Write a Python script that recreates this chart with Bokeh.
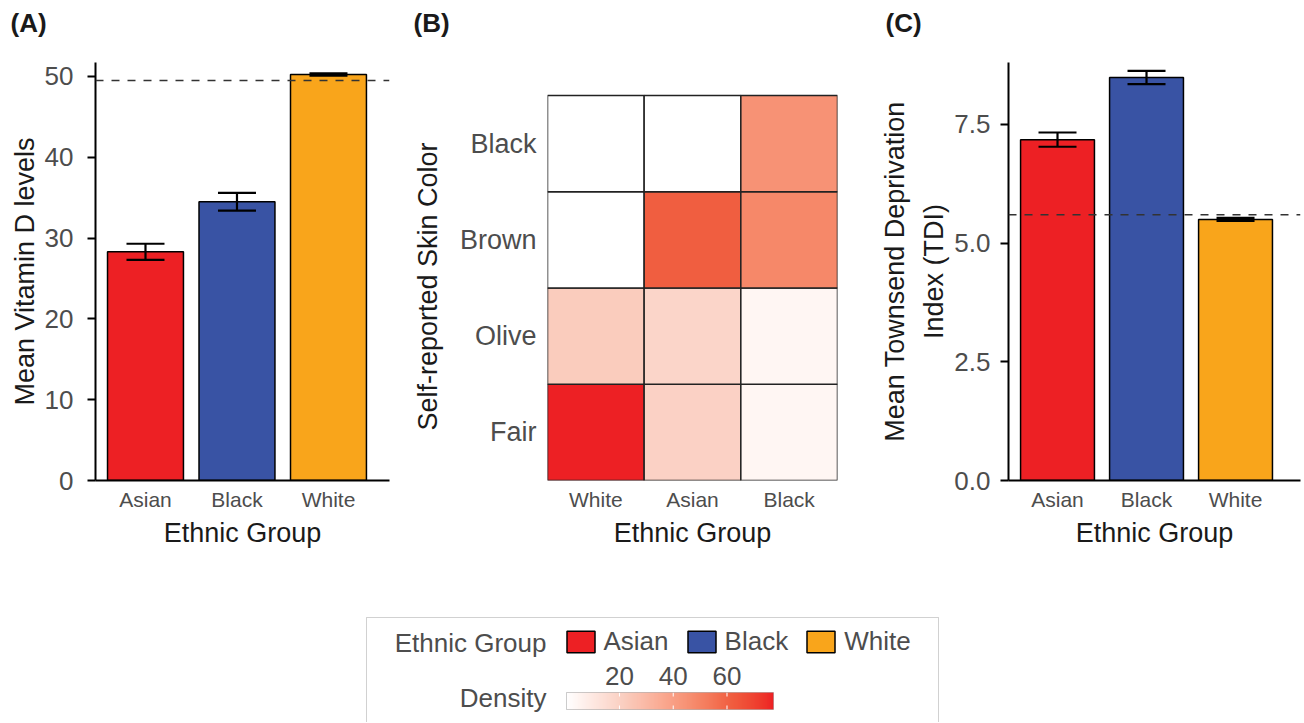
import numpy as np
from bokeh.plotting import figure
from bokeh.models import (ColumnDataSource, Range1d, FixedTicker, Whisker, TeeHead, Span,
                          LinearColorMapper, Legend, LegendItem, Label, BoxAnnotation,
                          Title, PrintfTickFormatter)
from bokeh.layouts import row, column
from bokeh.transform import transform
from bokeh.core.properties import value
from bokeh.embed import file_html
from bokeh.resources import INLINE

# ---------------- data ----------------
groups = ["Asian", "Black", "White"]
group_colors = ["#ED2024", "#3953A4", "#F9A51B"]

vitd_mean = [28.3, 34.5, 50.25]
vitd_lo = [27.3, 33.4, 50.1]
vitd_hi = [29.3, 35.6, 50.4]
vitd_ref = 49.5

tdi_mean = [7.18, 8.49, 5.50]
tdi_lo = [7.03, 8.35, 5.47]
tdi_hi = [7.33, 8.63, 5.53]
tdi_ref = 5.60

heat_groups = ["White", "Asian", "Black"]
skin_colors = ["Fair", "Olive", "Brown", "Black"]
dens_white = [77.3, 22.5, 0.5, 0.3]
dens_asian = [20.0, 18.5, 61.5, 0.3]
dens_black = [4.5, 4.5, 48.5, 45.0]

vitd_ticks = [0, 10, 20, 30, 40, 50]
tdi_ticks = [0.0, 2.5, 5.0, 7.5]
dens_ticks = [20, 40, 60]

# ---------------- style ----------------
FONT = "Liberation Sans"
TICK_C = "#4d4d4d"
TITLE_C = "#1a1a1a"
# colour-scale stops (position along the scale, colour)
scale_stops = [(0.0, "#FFFFFF"), (0.28, "#FACDBF"), (0.6, "#F68E70"),
               (0.8, "#F05D3F"), (1.0, "#ED2024")]


def srgb_to_lab(h):
    r, g, b = [int(h[i:i + 2], 16) / 255 for i in (1, 3, 5)]
    def lin(c):
        return c / 12.92 if c <= 0.04045 else ((c + 0.055) / 1.055) ** 2.4
    rl, gl, bl = lin(r), lin(g), lin(b)
    X = 0.4124564 * rl + 0.3575761 * gl + 0.1804375 * bl
    Y = 0.2126729 * rl + 0.7151522 * gl + 0.0721750 * bl
    Z = 0.0193339 * rl + 0.1191920 * gl + 0.9503041 * bl
    def f(t):
        return t ** (1 / 3) if t > 216 / 24389 else (24389 / 27 * t + 16) / 116
    fx, fy, fz = f(X / 0.95047), f(Y), f(Z / 1.08883)
    return np.array([116 * fy - 16, 500 * (fx - fy), 200 * (fy - fz)])


def lab_to_hex(lab):
    L, a, b = lab
    fy = (L + 16) / 116
    fx = fy + a / 500
    fz = fy - b / 200
    def finv(t):
        return t ** 3 if t ** 3 > 216 / 24389 else (116 * t - 16) / (24389 / 27)
    X, Y, Z = 0.95047 * finv(fx), finv(fy), 1.08883 * finv(fz)
    rl = 3.2404542 * X - 1.5371385 * Y - 0.4985314 * Z
    gl = -0.9692660 * X + 1.8760108 * Y + 0.0415560 * Z
    bl = 0.0556434 * X - 0.2040259 * Y + 1.0572252 * Z
    def gam(c):
        c = min(max(c, 0.0), 1.0)
        return 12.92 * c if c <= 0.0031308 else 1.055 * c ** (1 / 2.4) - 0.055
    return "#%02x%02x%02x" % tuple(int(round(gam(c) * 255)) for c in (rl, gl, bl))


def build_palette(stops, n=256):
    pos = [s[0] for s in stops]
    labs = [srgb_to_lab(s[1]) for s in stops]
    out = []
    for t in np.linspace(0, 1, n):
        j = min(max(np.searchsorted(pos, t, side="right") - 1, 0), len(pos) - 2)
        u = (t - pos[j]) / (pos[j + 1] - pos[j])
        out.append(lab_to_hex(labs[j] + (labs[j + 1] - labs[j]) * u))
    return out


palette = build_palette(scale_stops)
all_dens = dens_white + dens_asian + dens_black
dmin, dmax = min(all_dens), max(all_dens)
mapper = LinearColorMapper(palette=palette, low=dmin, high=dmax)


def base_style(p, label, offset):
    p.xgrid.visible = False
    p.ygrid.visible = False
    p.outline_line_color = None
    p.background_fill_color = "white"
    p.border_fill_color = "white"
    # spacer title (nearest the frame), then the panel tag above it
    p.add_layout(Title(text=" ", text_font_size="2px", standoff=21), "above")
    p.add_layout(Title(text=label, text_font=FONT, text_font_size="26px",
                       text_font_style="bold", text_color=TITLE_C, align="left",
                       offset=offset, standoff=0), "above")


def style_axis(ax, tick_size, tick_standoff, label, label_standoff):
    ax.major_label_text_font = FONT
    ax.major_label_text_font_size = tick_size
    ax.major_label_text_color = TICK_C
    ax.major_label_standoff = tick_standoff
    ax.minor_tick_line_color = None
    ax.axis_label = label
    ax.axis_label_text_font = FONT
    ax.axis_label_text_font_size = "27px"
    ax.axis_label_text_font_style = "normal"
    ax.axis_label_text_color = TITLE_C
    ax.axis_label_standoff = label_standoff


def bar_panel(tag, means, lo, hi, ref, yend, ticks, ylabel, xstart, xend,
              width, mb_left, mb_right, title_offset, tick_standoff, fmt=None):
    xs = list(range(1, len(groups) + 1))
    src = ColumnDataSource(dict(x=xs, top=means, lo=lo, hi=hi, color=group_colors, g=groups))
    p = figure(width=width, height=560,
               x_range=Range1d(xstart, xend), y_range=Range1d(0, yend),
               toolbar_location=None, output_backend="svg",
               min_border_left=mb_left, min_border_right=mb_right,
               min_border_top=62, min_border_bottom=80)
    base_style(p, tag, title_offset)
    p.vbar(x="x", top="top", width=0.83, source=src, fill_color="color",
           line_color="black", line_width=1.5)
    p.add_layout(Whisker(source=src, base="x", lower="lo", upper="hi", dimension="height",
                         line_color="black", line_width=2.2, level="overlay",
                         upper_head=TeeHead(size=38, line_color="black", line_width=2.2),
                         lower_head=TeeHead(size=38, line_color="black", line_width=2.2)))
    p.add_layout(Span(location=ref, dimension="width", line_color="#333333",
                      line_width=1.5, line_dash="8 8"))
    ya = p.yaxis[0]
    ya.ticker = FixedTicker(ticks=ticks)
    if fmt is not None:
        ya.formatter = PrintfTickFormatter(format=fmt)
    ya.axis_line_color = "black"
    ya.axis_line_width = 2
    ya.major_tick_line_color = "black"
    ya.major_tick_line_width = 2
    ya.major_tick_out = 8
    ya.major_tick_in = 0
    style_axis(ya, "26px", tick_standoff, ylabel, 2)
    ya.axis_label_text_line_height = 1.3
    xa = p.xaxis[0]
    xa.ticker = FixedTicker(ticks=xs)
    xa.major_label_overrides = {x: g for x, g in zip(xs, groups)}
    xa.axis_line_color = "black"
    xa.axis_line_width = 2
    xa.major_tick_line_color = None
    style_axis(xa, "21px", 1, "Ethnic Group", 4)
    return p


# ---------------- panel A ----------------
pA = bar_panel("(A)", vitd_mean, vitd_lo, vitd_hi, vitd_ref, 51.73, vitd_ticks,
               "Mean Vitamin D levels", 0.4536, 3.667, 400, 95, 11, -85, 14)

# ---------------- panel C ----------------
pC = bar_panel("(C)", tdi_mean, tdi_lo, tdi_hi, tdi_ref, 8.805, tdi_ticks,
               "Mean Townsend Deprivation\nIndex (TDI)", 0.4494, 3.73, 444, 148, 4,
               -123, 10, fmt="%.1f")

# ---------------- panel B (heatmap) ----------------
hx_pos = list(range(1, len(heat_groups) + 1))
hy_pos = list(range(1, len(skin_colors) + 1))
hx, hy, hd = [], [], []
for gx, dens in zip(hx_pos, [dens_white, dens_asian, dens_black]):
    for sy, d in zip(hy_pos, dens):
        hx.append(gx)
        hy.append(sy)
        hd.append(d)
hsrc = ColumnDataSource(dict(x=hx, y=hy, d=hd))

pB = figure(width=460, height=560,
            x_range=Range1d(0.5, 3.5), y_range=Range1d(0.5, 4.843),
            toolbar_location=None, output_backend="svg",
            min_border_left=147, min_border_right=23, min_border_top=62, min_border_bottom=80)
base_style(pB, "(B)", -134)
pB.rect(x="x", y="y", width=1, height=1, source=hsrc,
        fill_color=transform("d", mapper), line_color="#222222", line_width=1.5)
xb, yb = pB.xaxis[0], pB.yaxis[0]
xb.ticker = FixedTicker(ticks=hx_pos)
xb.major_label_overrides = {x: g for x, g in zip(hx_pos, heat_groups)}
yb.ticker = FixedTicker(ticks=hy_pos)
yb.major_label_overrides = {y: s for y, s in zip(hy_pos, skin_colors)}
for ax in (xb, yb):
    ax.axis_line_color = None
    ax.major_tick_line_color = None
style_axis(xb, "21px", 1, "Ethnic Group", 4)
# trailing no-break spaces re-centre the title on the tiles (frame is taller)
style_axis(yb, "27px", 5, "Self-reported Skin Color" + "\u00a0" * 4, 14)

# ---------------- legend strip ----------------
# frame spans the legend box area; x is in density units so the colour bar
# and its ticks go through the plot's own scale
cb_left, cb_right = 566, 773          # colour-bar pixel extent on the page
fr_left, fr_right = 360, 944          # frame pixel extent
k = (cb_right - cb_left) / (dmax - dmin)
x0 = dmin - (cb_left - fr_left) / k
x1 = dmin + (fr_right - cb_left) / k
PL_BOTTOM = 722                         # page y of the frame bottom


def ypx(page_y):
    return PL_BOTTOM - page_y


pL = figure(width=1304, height=162, x_range=Range1d(x0, x1), y_range=Range1d(0, 112),
            x_axis_type=None, y_axis_type=None,
            toolbar_location=None, output_backend="svg",
            min_border_left=fr_left, min_border_right=1304 - fr_right,
            min_border_top=50, min_border_bottom=0)
pL.xgrid.visible = False
pL.ygrid.visible = False
pL.outline_line_color = None
pL.background_fill_color = "white"
pL.border_fill_color = "white"

grad = np.linspace(dmin, dmax, 256).reshape(1, -1)
pL.image(image=[grad], x=dmin, y=ypx(709), dw=dmax - dmin, dh=17, color_mapper=mapper)
pL.add_layout(BoxAnnotation(left=dmin, right=dmax, bottom=ypx(709), top=ypx(692),
                            fill_color=None, fill_alpha=0, line_color="#555555",
                            line_width=1, level="overlay"))
pL.segment(x0=dens_ticks, x1=dens_ticks, y0=[ypx(709)] * len(dens_ticks),
           y1=[ypx(705)] * len(dens_ticks), line_color="white", line_width=1)
pL.segment(x0=dens_ticks, x1=dens_ticks, y0=[ypx(696)] * len(dens_ticks),
           y1=[ypx(692)] * len(dens_ticks), line_color="white", line_width=1)
pL.text(x=dens_ticks, y=[ypx(675)] * len(dens_ticks), text=[str(t) for t in dens_ticks],
        text_align="center", text_baseline="middle", text_font=value(FONT),
        text_font_size="26px", text_color=TICK_C)

# legend proxies: hidden renderers, only their legend keys are drawn
lsrc = ColumnDataSource(dict(x=[dmin] * len(groups), top=[dmin] * len(groups),
                             color=group_colors))
lr = pL.vbar(x="x", top="top", width=1, source=lsrc, fill_color="color",
             line_color="black", line_width=1.5, visible=False)
items = [LegendItem(label=g, renderers=[lr], index=i) for i, g in enumerate(groups)]
leg = Legend(items=items, location=(566 - 3.5 - fr_left, ypx(657)), orientation="horizontal",
             glyph_width=35, glyph_height=27, label_standoff=6, spacing=15,
             padding=0, margin=0, border_line_color=None, background_fill_alpha=0,
             label_text_font=FONT, label_text_font_size="26px", label_text_color=TICK_C)
pL.add_layout(leg)

pL.add_layout(Label(x=546 - fr_left, y=ypx(642), x_units="screen", y_units="screen",
                    text="Ethnic Group", text_align="right", text_baseline="middle",
                    text_font=FONT, text_font_size="26px", text_color=TICK_C))
pL.add_layout(Label(x=546 - fr_left, y=ypx(697), x_units="screen", y_units="screen",
                    text="Density", text_align="right", text_baseline="middle",
                    text_font=FONT, text_font_size="26px", text_color=TICK_C))
pL.add_layout(BoxAnnotation(left=dmin + (366 - cb_left) / k, right=dmin + (938 - cb_left) / k,
                            top=ypx(617), bottom=-20,
                            fill_color=None, fill_alpha=0, line_color="#666666",
                            line_width=1, level="overlay"))

layout = column(row(pA, pB, pC), pL)
open("out.html", "w").write(file_html(layout, INLINE))
